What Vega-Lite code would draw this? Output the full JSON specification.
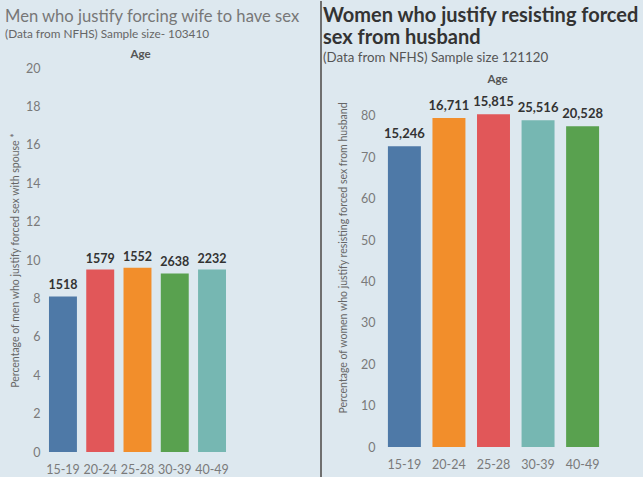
{
  "$schema": "https://vega.github.io/schema/vega-lite/v6.json",
  "background": "#dde8ef",
  "padding": {"left": 5, "top": 0, "right": 7, "bottom": 0},
  "autosize": {"type": "pad"},
  "bounds": "flush",
  "spacing": 57,
  "config": {
    "view": {"stroke": null},
    "font": "Lato",
    "axis": {
      "grid": false,
      "ticks": false,
      "domain": false,
      "labelColor": "#7a7a7a",
      "labelFontSize": 12.5,
      "labelFont": "Lato",
      "titleFont": "Lato",
      "titleColor": "#666",
      "titleFontWeight": "normal"
    },
    "title": {"anchor": "start", "frame": "group"}
  },
  "resolve": {"scale": {"color": "independent", "x": "independent", "y": "independent"}},
  "hconcat": [
    {
      "width": 221,
      "height": 384,
      "title": {
        "text": "Men who justify forcing wife to have sex",
        "subtitle": "(Data from NFHS)  Sample size- 103410",
        "fontSize": 16.6,
        "fontWeight": "normal",
        "color": "#777",
        "subtitleFontSize": 11.8,
        "subtitleColor": "#666",
        "subtitlePadding": 4,
        "dx": -38,
        "offset": 7
      },
      "data": {
        "values": [
          {"age": "15-19", "pct": 8.1, "n": 1518},
          {"age": "20-24", "pct": 9.5, "n": 1579},
          {"age": "25-28", "pct": 9.6, "n": 1552},
          {"age": "30-39", "pct": 9.3, "n": 2638},
          {"age": "40-49", "pct": 9.5, "n": 2232}
        ]
      },
      "encoding": {
        "x": {
          "field": "age",
          "type": "nominal",
          "sort": null,
          "scale": {"paddingInner": 0.25, "paddingOuter": 0.59, "align": 0.136},
          "axis": {
            "labelAngle": 0,
            "labelPadding": 11,
            "title": "Age",
            "titleX": 97,
            "titleY": -398,
            "titleBaseline": "middle",
            "titleFontSize": 11.5,
            "titleFontWeight": "bold",
            "titleColor": "#555"
          }
        },
        "y": {
          "field": "pct",
          "type": "quantitative",
          "scale": {"domain": [0, 20], "nice": false},
          "axis": {
            "values": [0, 2, 4, 6, 8, 10, 12, 14, 16, 18, 20],
            "title": "Percentage of men who justify forced sex with spouse *",
            "titleFontSize": 10.5,
            "labelPadding": 3,
            "titlePadding": 5
          }
        }
      },
      "layer": [
        {
          "mark": {"type": "bar"},
          "encoding": {
            "color": {
              "field": "age",
              "type": "nominal",
              "scale": {
                "domain": ["15-19", "20-24", "25-28", "30-39", "40-49"],
                "range": ["#4e79a7", "#e15759", "#f28e2b", "#59a14f", "#76b7b2"]
              },
              "legend": null
            }
          }
        },
        {
          "mark": {"type": "text", "baseline": "bottom", "dy": -4, "fontWeight": "bold", "fontSize": 12.5, "color": "#333"},
          "encoding": {"text": {"field": "n", "type": "quantitative", "format": "d"}}
        }
      ]
    },
    {
      "width": 1,
      "height": 410,
      "data": {"values": [{"x": 0, "y": 0, "y2": 1}]},
      "mark": {"type": "rule", "color": "#6f6f6f", "strokeWidth": 2},
      "encoding": {
        "x": {"field": "x", "type": "quantitative", "scale": {"domain": [0, 1]}, "axis": null},
        "y": {"field": "y", "type": "quantitative", "scale": {"domain": [0, 1], "range": [410, -67]}, "axis": null},
        "y2": {"field": "y2"}
      }
    },
    {
      "width": 229,
      "height": 379,
      "title": {
        "text": ["Women who justify resisting forced", "sex from husband"],
        "subtitle": "(Data from NFHS) Sample size 121120",
        "fontSize": 20,
        "fontWeight": "bold",
        "color": "#333",
        "lineHeight": 22,
        "subtitleFontSize": 13.3,
        "subtitleColor": "#555",
        "subtitlePadding": 3,
        "dx": -56,
        "offset": 4
      },
      "data": {
        "values": [
          {"age": "15-19", "pct": 72.7, "n": 15246},
          {"age": "20-24", "pct": 79.5, "n": 16711},
          {"age": "25-28", "pct": 80.4, "n": 15815},
          {"age": "30-39", "pct": 79.0, "n": 25516},
          {"age": "40-49", "pct": 77.5, "n": 20528}
        ]
      },
      "encoding": {
        "x": {
          "field": "age",
          "type": "nominal",
          "sort": null,
          "scale": {"paddingInner": 0.26, "paddingOuter": 0.2},
          "axis": {
            "labelAngle": 0,
            "labelPadding": 11,
            "title": "Age",
            "titleX": 118,
            "titleY": -368,
            "titleBaseline": "middle",
            "titleFontSize": 11.5,
            "titleFontWeight": "bold",
            "titleColor": "#555"
          }
        },
        "y": {
          "field": "pct",
          "type": "quantitative",
          "scale": {"domain": [0, 91.6], "nice": false},
          "axis": {
            "values": [0, 10, 20, 30, 40, 50, 60, 70, 80],
            "title": "Percentage of women who justify resisting forced sex from husband",
            "titleFontSize": 10.5,
            "labelPadding": 4,
            "titlePadding": 12
          }
        }
      },
      "layer": [
        {
          "mark": {"type": "bar"},
          "encoding": {
            "color": {
              "field": "age",
              "type": "nominal",
              "scale": {
                "domain": ["15-19", "20-24", "25-28", "30-39", "40-49"],
                "range": ["#4e79a7", "#f28e2b", "#e15759", "#76b7b2", "#59a14f"]
              },
              "legend": null
            }
          }
        },
        {
          "mark": {"type": "text", "baseline": "bottom", "dy": -5, "fontWeight": "bold", "fontSize": 13, "color": "#333"},
          "encoding": {"text": {"field": "n", "type": "quantitative", "format": ","}}
        }
      ]
    }
  ]
}
